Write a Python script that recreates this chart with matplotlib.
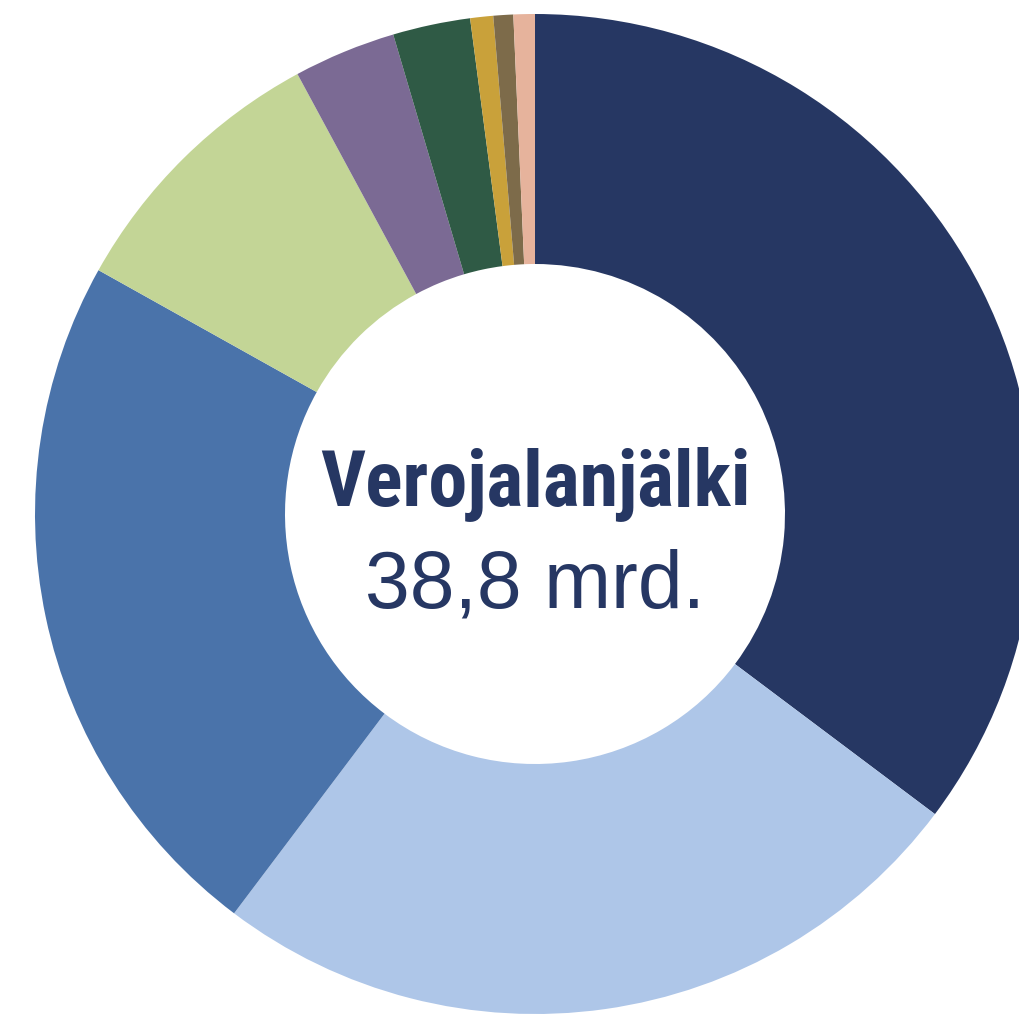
import matplotlib.pyplot as plt
from matplotlib import font_manager

# share of the tax footprint, % (read clockwise from 12 o'clock)
values = [35.2, 25.0, 22.8, 9.0, 3.3, 2.5, 0.74, 0.64, 0.69]
colors = ['#263763', '#aec6e8', '#4a73aa', '#c3d596', '#7b6a94',
          '#2f5a45', '#c9a13a', '#7d6b4a', '#e6b39c']
title = 'Verojalanjälki'
total = '38,8 mrd.'

# pick a narrow bold face for the title if one is installed
fonts = font_manager.fontManager.ttflist
names = {f.name for f in fonts}
title_font = dict(family=['Roboto', 'DejaVu Sans'])
for cand in ['Liberation Sans Narrow', 'Roboto Condensed', 'Open Sans Condensed',
             'Noto Sans Condensed', 'DejaVu Sans Condensed']:
    if cand in names:
        title_font = dict(family=[cand, 'DejaVu Sans'])
        break
else:
    if any(f.name == 'DejaVu Sans' and f.stretch == 'condensed' for f in fonts):
        title_font = dict(family=['DejaVu Sans'], fontstretch='condensed')

fig = plt.figure(figsize=(10.2, 10.14), dpi=100)
ax = fig.add_axes([0, 0, 1, 1])

ax.pie(values, colors=colors, startangle=90, counterclock=False,
       radius=1.0, wedgeprops=dict(width=0.5, linewidth=0))

ax.set_xlim(-1.07, 0.97)
ax.set_ylim(-1.0, 1.028)
ax.set_aspect('auto')
ax.axis('off')

t1 = ax.text(0, 0.018, title, ha='center', va='baseline', fontsize=58,
             fontweight='bold', color='#263763', zorder=10, **title_font)
t2 = ax.text(0, -0.188, total, ha='center', va='baseline', fontsize=58,
             color='#263763', zorder=10, family=['Liberation Sans', 'DejaVu Sans'])

# keep the title inside the hole (about 430 px wide in the reference)
fig.canvas.draw()
w = t1.get_window_extent().width
if w > 440:
    t1.set_fontsize(58 * 430 / w)

plt.savefig('out.png', dpi=100)
